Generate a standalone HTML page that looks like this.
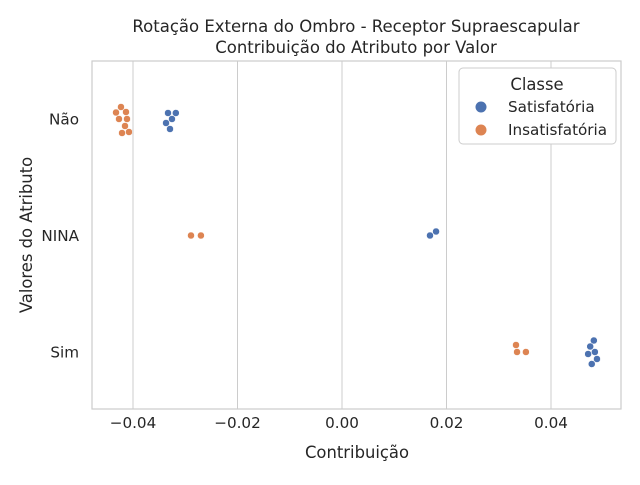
<!DOCTYPE html>
<html><head><meta charset="utf-8"><style>
body{margin:0;background:#fff;font-family:"Liberation Sans","DejaVu Sans",sans-serif}
text{font-family:"DejaVu Sans","Liberation Sans",sans-serif;fill:#262626}
</style></head><body>
<svg id="c" width="640" height="480" xmlns="http://www.w3.org/2000/svg">
<text x="356" y="32" font-size="16.5" text-anchor="middle">Rotação Externa do Ombro - Receptor Supraescapular</text>
<text x="356" y="53" font-size="16.5" text-anchor="middle">Contribuição do Atributo por Valor</text>
<g id="grid"></g>
<rect x="92" y="61" width="529" height="348" fill="none" stroke="#ccc" stroke-width="1.2"/>
<g id="marks"></g>
<text x="357" y="458" font-size="16.4" text-anchor="middle">Contribuição</text>
<text transform="translate(32,235) rotate(-90)" font-size="16.4" text-anchor="middle">Valores do Atributo</text>
<g>
<rect x="459" y="68" width="157" height="76" rx="4" fill="#fff" stroke="#ccc"/>
<text x="537" y="90" font-size="16.4" text-anchor="middle">Classe</text>
<circle cx="481" cy="107" r="5.5" fill="#4c72b0"/>
<text x="508" y="112" font-size="15.2">Satisfatória</text>
<circle cx="481" cy="130" r="5.5" fill="#dd8452"/>
<text x="508" y="135" font-size="15.2">Insatisfatória</text>
</g>
</svg>
<script>
const categories=["Não","NINA","Sim"];
const xTicks=[-0.04,-0.02,0.00,0.02,0.04];
const xTickLabels=["−0.04","−0.02","0.00","0.02","0.04"];
const satNao=[-0.03254,-0.0333,-0.03368,-0.0318,-0.03292];
const insNao=[-0.04115,-0.04134,-0.04268,-0.04325,-0.04153,-0.04077,-0.0423,-0.0421,-0.04115];
const satNina=[0.01684,0.0180];
const insNina=[-0.0289,-0.027];
const satSim=[0.0484,0.0475,0.0471,0.0488,0.0478,0.0482];
const insSim=[0.0335,0.0333,0.0352];
const NS="http://www.w3.org/2000/svg";
const X=v=>342+v*5225;
const Y=i=>119+i*116.5;
const grid=document.getElementById('grid'),marks=document.getElementById('marks');
xTicks.forEach((t,i)=>{
 const l=document.createElementNS(NS,'line');
 l.setAttribute('x1',X(t));l.setAttribute('x2',X(t));l.setAttribute('y1',61);l.setAttribute('y2',409);
 l.setAttribute('stroke','#ccc');
 
 
 grid.appendChild(l);
 const tx=document.createElementNS(NS,'text');
 tx.setAttribute('x',X(t));tx.setAttribute('y',428);tx.setAttribute('font-size','15.2');tx.setAttribute('text-anchor','middle');
 tx.textContent=xTickLabels[i];
 
 
 grid.appendChild(tx);
});
categories.forEach((c,i)=>{
 const tx=document.createElementNS(NS,'text');
 tx.setAttribute('x',79);tx.setAttribute('y',Y(i)+5.5);tx.setAttribute('font-size','15.2');tx.setAttribute('text-anchor','end');
 tx.textContent=c;
 
 
 grid.appendChild(tx);
});
const groups=[[satNao,insNao],[satNina,insNina],[satSim,insSim]];
const colors=["#4c72b0","#dd8452"];
const D=7;
groups.forEach((g,ci)=>{
 const pts=[];
 g.forEach((arr,si)=>arr.forEach(v=>pts.push({x:X(v),s:si})));
 const placed=[];
 pts.forEach(p=>{
  let best=0;
  for(let k=0;k<60;k++){
   const off=(k%2?-1:1)*Math.ceil(k/2)*0.5;
   if(placed.every(q=>Math.hypot(q.x-p.x,q.y-off)>=D)){best=off;break;}
  }
  p.y=best;placed.push(p);
 });
 placed.forEach(p=>{
  const c=document.createElementNS(NS,'circle');
  c.setAttribute('cx',p.x);c.setAttribute('cy',Y(ci)+p.y);c.setAttribute('r',3.5);
  c.setAttribute('fill',colors[p.s]);c.setAttribute('stroke','#fff');c.setAttribute('stroke-width','0.5');
  
  
  marks.appendChild(c);
 });
});
</script>
</body></html>
